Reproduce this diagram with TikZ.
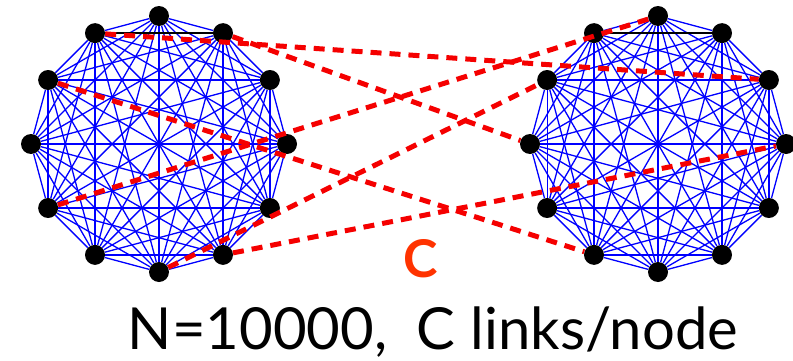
\documentclass[tikz,border=0pt]{standalone}
\usepackage{fontspec}
\setmainfont{Lato}
\definecolor{linkred}{RGB}{245,0,0}
\definecolor{labelred}{RGB}{255,51,0}

\begin{document}
\begin{tikzpicture}[x=1pt,y=1pt]
        \tikzstyle{vertex}=[circle, fill=black, inner sep=0pt, minimum size=20pt]
        \tikzstyle{edge}=[blue, line width=1.3pt]
        \tikzstyle{link}=[linkred, line width=5pt, dash pattern=on 11pt off 8pt]

        \useasboundingbox (0,0) rectangle (793,360);

        % two clusters, 12 vertices each on a circle
        \foreach \c/\x in {l/159, r/658}
            \foreach \i in {0,...,11}
                \node[vertex] (\c\i) at ({\x+128*cos(30*\i)}, {216+128*sin(30*\i)}) {};

        % every vertex linked to every other one
        \foreach \c in {l, r} {
            \foreach \i in {0,...,10} {
                \pgfmathtruncatemacro{\nxt}{\i+1}
                \foreach \j in {\nxt,...,11}
                    \draw[edge] (\c\i) -- (\c\j);
            }
            \draw[black, line width=1.3pt] (\c2) -- (\c4);
        }

        % the C random links
        \draw[link] (l4) -- (r1);
        \draw[link] (l2) -- (r6);
        \draw[link] (l5) -- (r8);
        \draw[link] (l7) -- (r3);
        \draw[link] (l9) -- (r5);
        \draw[link] (l10) -- (r0);

        \node[font=\bfseries\fontsize{52}{52}\selectfont, text=labelred, inner sep=0pt] (clabel) at (421,101) {C};
        \node[font=\fontsize{58}{58}\selectfont, anchor=base, inner sep=0pt] (caption) at (433,11) {N=10000,\ \ C links/node};
\end{tikzpicture}
\end{document}
